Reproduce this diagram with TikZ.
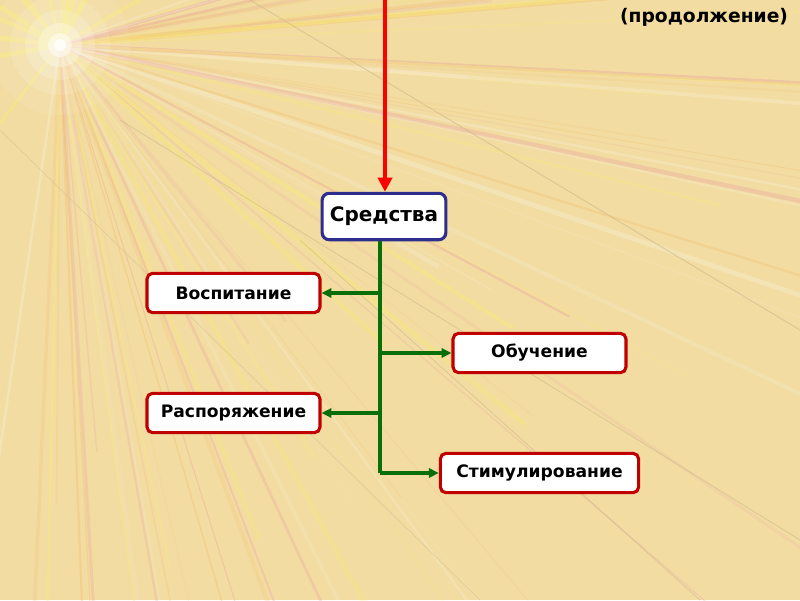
\documentclass[tikz,border=0pt]{standalone}
\usepackage{fontspec}
\setmainfont{DejaVu Sans}
\usetikzlibrary{arrows.meta}
\definecolor{bg}{HTML}{F2DCA2}
\definecolor{rayY}{HTML}{FAEC70}
\definecolor{rayP}{HTML}{EAA4A0}
\definecolor{rayO}{HTML}{F4C070}
\definecolor{streak}{HTML}{C8B488}
\definecolor{navy}{HTML}{2E2E8C}
\definecolor{boxred}{HTML}{C00000}
\definecolor{grn}{HTML}{0A6E0A}
\tikzset{
  box/.style={draw=boxred, line width=2.2pt, fill=white, rounded corners=4pt,
    minimum height=28pt, inner sep=0pt, font=\bfseries\fontsize{12.2}{14}\selectfont},
  mainbox/.style={draw=navy, line width=2.2pt, fill=white, rounded corners=5pt,
    minimum height=33pt, minimum width=88pt, inner sep=0pt, font=\bfseries\fontsize{14.2}{16}\selectfont},
  branch/.style={draw=grn, line width=2.5pt, -{Triangle[length=7pt,width=6.5pt]}},
  trunk/.style={draw=grn, line width=2.5pt},
  bigarrow/.style={draw=red, line width=3.2pt, -{Triangle[length=10pt,width=10pt]}}
}
\begin{document}
\begin{tikzpicture}[x=0.025cm,y=-0.025cm]
\useasboundingbox (0,0) rectangle (800,600);
\fill[bg] (0,0) rectangle (800,600);
% background streaks and rays
\begin{scope}
\clip (0,0) rectangle (800,600);
\pgfmathsetseed{7}
\foreach \i in {1,...,80}{
  \pgfmathsetmacro{\ang}{-20+rnd*120}
  \pgfmathsetmacro{\len}{300+rnd*800}
  \pgfmathsetmacro{\w}{0.5+rnd*3}
  \pgfmathsetmacro{\op}{0.12+rnd*0.3}
  \pgfmathtruncatemacro{\c}{mod(\i,4)}
  \ifcase\c
    \draw[rayY, line width=\w pt, opacity=\op] (60,45) -- ++(\ang:\len);
  \or
    \draw[rayP, line width=\w pt, opacity=\op] (60,45) -- ++(\ang:\len);
  \or
    \draw[rayO, line width=\w pt, opacity=\op] (60,45) -- ++(\ang:\len);
  \else
    \draw[white, line width=\w pt, opacity=0.5*\op] (60,45) -- ++(\ang:\len);
  \fi
}
\foreach \i in {1,...,16}{
  \pgfmathsetmacro{\ang}{100+rnd*250}
  \pgfmathsetmacro{\w}{1+rnd*3}
  \draw[rayY, line width=\w pt, opacity=0.45] (60,45) -- ++(\ang:110);
}
\draw[streak, line width=0.6pt, opacity=0.6] (250,0) -- (800,330);
\draw[streak, line width=0.6pt, opacity=0.5] (120,120) -- (800,540);
\draw[streak, line width=0.6pt, opacity=0.5] (300,240) -- (700,600);
\draw[streak, line width=0.5pt, opacity=0.4] (0,130) -- (480,600);
\foreach \r/\o in {70/0.08,50/0.12,35/0.18,22/0.3,12/0.5,6/0.8}{
  \fill[white, opacity=\o] (60,45) circle (\r);
}
\end{scope}
% title
\node[font=\bfseries\fontsize{13.3}{15}\selectfont, anchor=east] (title) at (793,17) {(продолжение)};
% nodes
\node[mainbox] (sr) at (384,216.5) {Средства};
\coordinate (top) at (385,0);
\node[box, minimum width=123pt] (vos) at (233.5,293) {Воспитание};
\node[box, minimum width=123pt] (obu) at (539.5,353) {Обучение};
\node[box, minimum width=123pt] (ras) at (233.5,413) {Распоряжение};
\node[box, minimum width=141pt] (sti) at (539.5,473) {Стимулирование};
% connectors
\draw[bigarrow] (top) -- (top |- sr.north);
\coordinate (j0) at (380,0 |- sr.south);
\coordinate (j4) at (380,473);
\draw[trunk] (j0) -- (j4);
\draw[branch] (380,293) -- (vos.east);
\draw[branch] (380,353) -- (obu.west);
\draw[branch] (380,413) -- (ras.east);
\draw[branch] (j4) -- (sti.west);
\end{tikzpicture}
\end{document}
